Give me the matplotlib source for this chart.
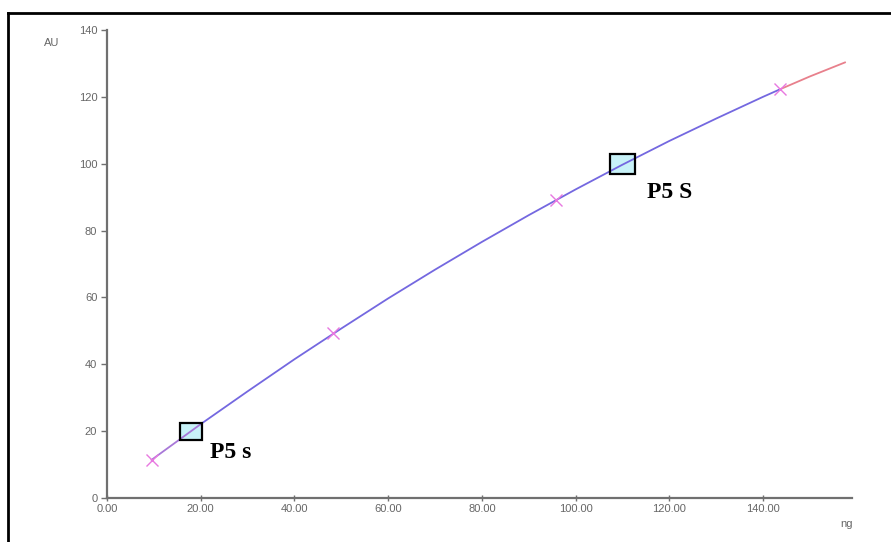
import matplotlib
matplotlib.use("Agg")
import matplotlib.pyplot as plt
from matplotlib.patches import Rectangle
from matplotlib.lines import Line2D

# Calibration standards (amount in ng vs response in AU)
std_ng = [9.5, 48.2, 95.8, 143.7]
std_au = [11.4, 49.5, 89.1, 122.3]

# Fitted calibration curve, sampled along its length
curve_ng = [9.5, 15, 20, 30, 40, 50, 60, 70, 80, 90, 100, 110, 120, 130, 140, 143.7, 150, 157.5]
curve_au = [11.4, 17.0, 22.1, 31.9, 41.5, 50.7, 59.7, 68.3, 76.6, 84.6, 92.3, 99.7, 106.8, 113.5, 120.0, 122.3, 126.1, 130.3]

# Unknown samples read back on the curve
sample_names = ["P5 s", "P5 S"]
sample_ng = [18.0, 110.0]
sample_au = [20.0, 100.0]

x_ticks = [0, 20, 40, 60, 80, 100, 120, 140]
y_ticks = [0, 20, 40, 60, 80, 100, 120, 140]

plt.rcParams["font.family"] = ["Liberation Sans", "DejaVu Sans"]

fig = plt.figure(figsize=(8.91, 5.42), dpi=100)
fig.patch.set_facecolor("white")
ax = fig.add_axes([107 / 891, 44 / 542, 745 / 891, 468 / 542])
ax.set_xlim(0, 159)
ax.set_ylim(0, 140)

axis_grey = "#707070"
for side in ("top", "right"):
    ax.spines[side].set_visible(False)
for side in ("left", "bottom"):
    ax.spines[side].set_color(axis_grey)
    ax.spines[side].set_linewidth(1.6)
    ax.spines[side].set_zorder(5)

ax.set_xticks(x_ticks)
ax.set_xticklabels([f"{v:.2f}" for v in x_ticks])
ax.set_yticks(y_ticks)
ax.set_yticklabels([str(v) for v in y_ticks])
ax.tick_params(axis="both", colors=axis_grey, labelcolor="#666666",
               labelsize=8, width=1.0)
ax.tick_params(axis="y", direction="out", length=4, pad=3)
ax.tick_params(axis="x", direction="inout", length=5, pad=2)

# Calibration curve: lower tail, main body, extrapolated upper part
split_lo = curve_ng.index(20)
split_hi = curve_ng.index(143.7)
ax.plot(curve_ng[:split_lo + 1], curve_au[:split_lo + 1], color="#a878d8", lw=1.3, zorder=3)
ax.plot(curve_ng[split_lo:split_hi + 1], curve_au[split_lo:split_hi + 1], color="#7468e0", lw=1.3, zorder=3)
ax.plot(curve_ng[split_hi:], curve_au[split_hi:], color="#e8808c", lw=1.3, zorder=3)

# Standards as crosses
ax.plot(std_ng, std_au, linestyle="none", marker="x", markersize=8,
        markeredgewidth=1.0, color="#e878e0", zorder=4)

# Sample boxes and labels
box_sizes = [(4.7, 5.1), (5.5, 6.0)]
label_offsets = [(4.0, -8.0), (5.3, -10.3)]
for name, sx, sy, (bw, bh), (dx, dy) in zip(sample_names, sample_ng, sample_au,
                                            box_sizes, label_offsets):
    ax.add_patch(Rectangle((sx - bw / 2, sy - bh / 2), bw, bh,
                           facecolor="#c8f2f8", edgecolor="none", zorder=2))
    ax.add_patch(Rectangle((sx - bw / 2, sy - bh / 2), bw, bh,
                           facecolor="none", edgecolor="black", lw=1.6, zorder=6))
    ax.text(sx + dx, sy + dy, name, fontsize=17, fontweight="bold",
            family=["Liberation Serif", "DejaVu Serif"], ha="left",
            va="baseline", color="black", zorder=7)

# Axis unit labels
fig.text(52 / 891, 1 - 43 / 542, "AU", fontsize=8, color="#666666",
         ha="center", va="center")
fig.text(847 / 891, 1 - 524 / 542, "ng", fontsize=8, color="#666666",
         ha="center", va="center")

# Frame lines on the left and top
fig.add_artist(Line2D([8 / 891, 8 / 891], [0, 1 - 13 / 542],
                      transform=fig.transFigure, color="black", lw=2))
fig.add_artist(Line2D([8 / 891, 1], [1 - 13 / 542, 1 - 13 / 542],
                      transform=fig.transFigure, color="black", lw=2))

fig.savefig("out.png", dpi=100)
